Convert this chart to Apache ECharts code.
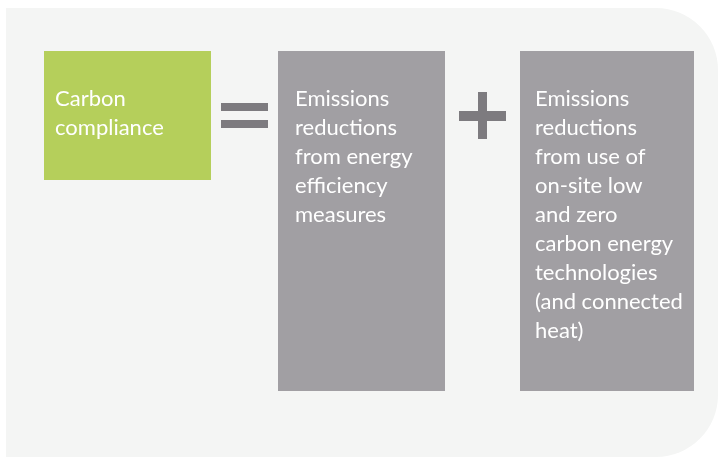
<!DOCTYPE html>
<html>
<head>
<meta charset="utf-8">
<script src="https://cdn.jsdelivr.net/npm/echarts@6/dist/echarts.min.js"></script>
<style>
  html, body { margin: 0; padding: 0; background: #ffffff; }
  #chart { width: 718px; height: 459px; }
</style>
</head>
<body>
<div id="chart"></div>
<script>
// 方框里的文字（每行一项）
const boxLines = [
  ['Carbon', 'compliance'],
  ['Emissions', 'reductions', 'from energy', 'efficiency', 'measures'],
  ['Emissions', 'reductions', 'from use of', 'on-site low', 'and zero', 'carbon energy', 'technologies', '(and connected', 'heat)']
]
// 方框位置 [x, y, 宽, 高]
const boxRects = [
  [44, 51, 167, 129],
  [278, 51, 167, 340],
  [520, 51, 174, 340]
]
const boxColors = ['#b5cf5b', '#a19fa3', '#a19fa3']
// 文字左边距
const textPad = [11, 17, 15]

const chart = echarts.init(document.getElementById('chart'))

const elements = []
// 背景面板
elements.push({
  type: 'rect',
  shape: { x: 6, y: 8, width: 712, height: 449, r: [0, 62, 62, 0] },
  style: { fill: '#f4f5f4' }
})
boxRects.forEach((r, i) => {
  elements.push({
    type: 'rect',
    shape: { x: r[0], y: r[1], width: r[2], height: r[3] },
    style: { fill: boxColors[i] }
  })
  elements.push({
    type: 'text',
    x: r[0] + textPad[i],
    y: 84,
    style: {
      text: boxLines[i].join('\n'),
      fill: '#ffffff',
      font: '22px Lato',
      lineHeight: 29,
      verticalAlign: 'top'
    }
  })
})
// 等号
elements.push({ type: 'rect', shape: { x: 221, y: 103, width: 47, height: 8 }, style: { fill: '#7d7b7f' } })
elements.push({ type: 'rect', shape: { x: 221, y: 120, width: 47, height: 8 }, style: { fill: '#7d7b7f' } })
// 加号
elements.push({ type: 'rect', shape: { x: 459, y: 111, width: 47, height: 10 }, style: { fill: '#7d7b7f' } })
elements.push({ type: 'rect', shape: { x: 478, y: 92, width: 9, height: 47 }, style: { fill: '#7d7b7f' } })

chart.setOption({
  animation: false,
  graphic: { elements: elements }
})
</script>
</body>
</html>
